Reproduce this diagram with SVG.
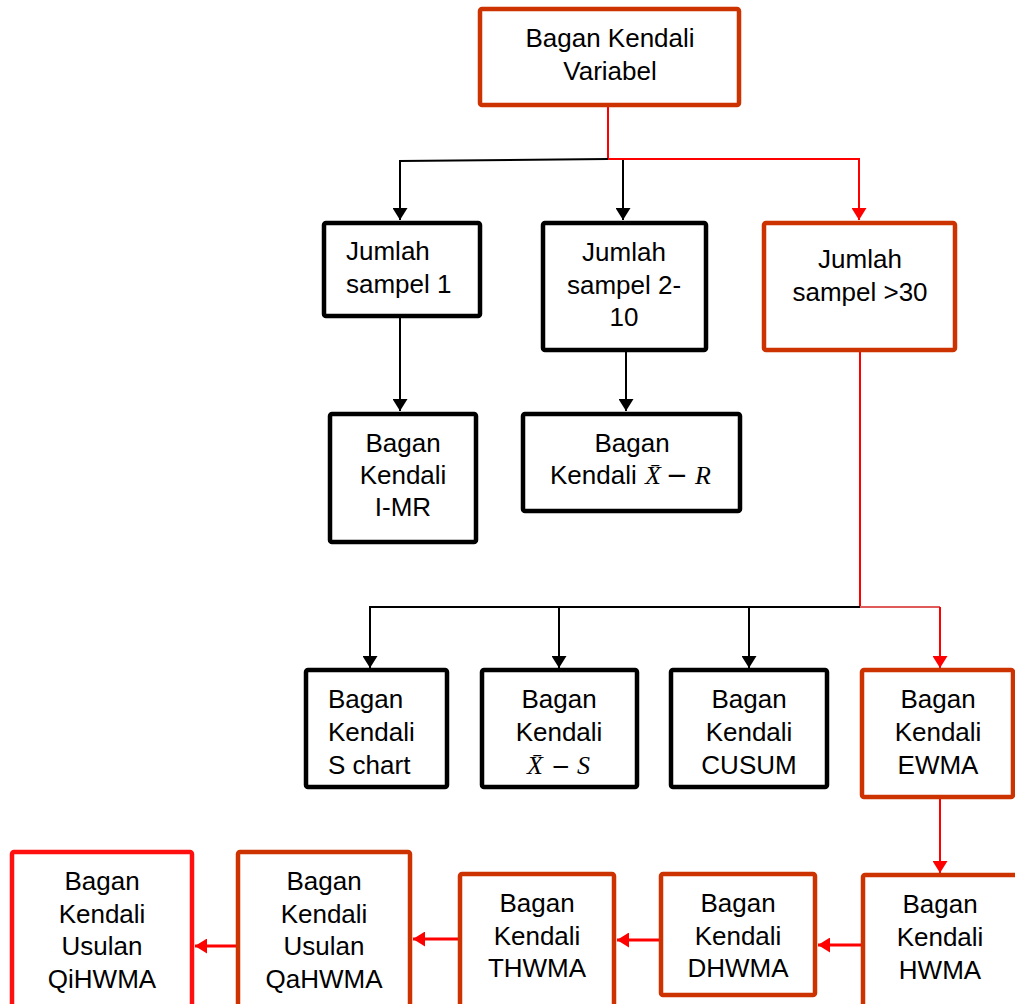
<svg xmlns="http://www.w3.org/2000/svg" width="1015" height="1004" viewBox="0 0 1015 1004">
<style>
.bx{fill:#fff;stroke:#000;stroke-width:4.5}
.rb{fill:#fff;stroke:#CC3300;stroke-width:4.5}
.qb{fill:#fff;stroke:#FF1010;stroke-width:4.5}
text{font-family:"Liberation Sans",Arial,sans-serif;font-size:26px;fill:#000}
.c{text-anchor:middle}
.m{font-family:"Liberation Serif","Times New Roman",serif;font-style:italic}
.mo{font-family:"DejaVu Sans",sans-serif}
.k{fill:none;stroke:#000;stroke-width:2}
.r{fill:none;stroke:#FF0000;stroke-width:2}
.r3{fill:none;stroke:#FF0000;stroke-width:3}
</style>
<defs>
<marker id="ak" markerUnits="userSpaceOnUse" markerWidth="15" markerHeight="15" viewBox="0 0 12 15" refX="12" refY="7.5" orient="auto"><path d="M0,0L12,7.5L0,15z" fill="#000"/></marker>
<marker id="ar" markerUnits="userSpaceOnUse" markerWidth="15" markerHeight="15" viewBox="0 0 12 15" refX="12" refY="7.5" orient="auto"><path d="M0,0L12,7.5L0,15z" fill="#FF0000"/></marker>
</defs>
<rect width="1015" height="1004" fill="#fff"/>
<g id="connectors">
<path class="r" d="M608,107V159"/>
<path class="k" d="M608,159L400,161V220" marker-end="url(#ak)"/>
<path class="k" d="M623,160V220" marker-end="url(#ak)"/>
<path class="r" d="M608,159H859V220" marker-end="url(#ar)"/>
<path class="k" d="M400,318V411" marker-end="url(#ak)"/>
<path class="k" d="M626,352V411" marker-end="url(#ak)"/>
<path class="r" d="M860,352V607"/>
<path class="k" d="M860,607H370V668" marker-end="url(#ak)"/>
<path class="k" d="M559,607V668" marker-end="url(#ak)"/>
<path class="k" d="M749,607V668" marker-end="url(#ak)"/>
<path fill="none" stroke="#E05A5A" stroke-width="2" d="M860,607H940"/>
<path class="r" d="M940,607V668" marker-end="url(#ar)"/>
<path class="r" d="M940,799V873" marker-end="url(#ar)"/>
<path class="r3" d="M861,945H818" marker-end="url(#ar)"/>
<path class="r3" d="M659,940H617" marker-end="url(#ar)"/>
<path class="r3" d="M458,939H413" marker-end="url(#ar)"/>
<path class="r3" d="M236,946H195" marker-end="url(#ar)"/>
</g>
<g id="n-variabel"><rect class="rb" x="480" y="9" width="259" height="96" rx="2"/><text class="c" x="610" y="47">Bagan Kendali</text><text class="c" x="610" y="80">Variabel</text></g>
<g id="n-sampel1"><rect class="bx" x="324" y="223" width="156" height="93" rx="2"/><text x="346" y="260">Jumlah</text><text x="346" y="293">sampel 1</text></g>
<g id="n-sampel210"><rect class="bx" x="543" y="223" width="163" height="127" rx="2"/><text class="c" x="624" y="261">Jumlah</text><text class="c" x="624" y="294">sampel 2-</text><text class="c" x="624" y="326">10</text></g>
<g id="n-sampel30"><rect class="rb" x="764" y="223" width="191" height="127" rx="2"/><text class="c" x="860" y="268">Jumlah</text><text class="c" x="860" y="301">sampel &gt;30</text></g>
<g id="n-imr"><rect class="bx" x="330" y="414" width="146" height="128" rx="2"/><text class="c" x="403" y="452">Bagan</text><text class="c" x="403" y="484">Kendali</text><text class="c" x="403" y="516">I-MR</text></g>
<g id="n-xr"><rect class="bx" x="523" y="414" width="217" height="97" rx="2"/><text class="c" x="632" y="452">Bagan</text><text x="550" y="484">Kendali <tspan class="m" x="645">X̄</tspan><tspan class="mo" x="666">−</tspan><tspan class="m" x="695">R</tspan></text></g>
<g id="n-schart"><rect class="bx" x="306" y="670" width="141" height="117" rx="2"/><text x="328" y="708">Bagan</text><text x="328" y="741">Kendali</text><text x="328" y="774">S chart</text></g>
<g id="n-xs"><rect class="bx" x="482" y="670" width="155" height="117" rx="2"/><text class="c" x="559" y="708">Bagan</text><text class="c" x="559" y="741">Kendali</text><text x="527" y="774"><tspan class="m">X̄</tspan><tspan class="mo" x="551" font-size="23">−</tspan><tspan class="m" x="577">S</tspan></text></g>
<g id="n-cusum"><rect class="bx" x="671" y="670" width="156" height="117" rx="2"/><text class="c" x="749" y="708">Bagan</text><text class="c" x="749" y="741">Kendali</text><text class="c" x="749" y="774">CUSUM</text></g>
<g id="n-ewma"><rect class="rb" x="862" y="670" width="151" height="127" rx="2"/><text class="c" x="938" y="708">Bagan</text><text class="c" x="938" y="741">Kendali</text><text class="c" x="938" y="774">EWMA</text></g>
<g id="n-hwma"><rect class="rb" x="863" y="875" width="160" height="140" rx="2"/><text class="c" x="940" y="913">Bagan</text><text class="c" x="940" y="946">Kendali</text><text class="c" x="940" y="979">HWMA</text></g>
<g id="n-dhwma"><rect class="rb" x="661" y="874" width="154" height="121" rx="2"/><text class="c" x="738" y="912">Bagan</text><text class="c" x="738" y="945">Kendali</text><text class="c" x="738" y="977">DHWMA</text></g>
<g id="n-thwma"><rect class="rb" x="460" y="874" width="154" height="140" rx="2"/><text class="c" x="537" y="912">Bagan</text><text class="c" x="537" y="945">Kendali</text><text class="c" x="537" y="977">THWMA</text></g>
<g id="n-qahwma"><rect class="rb" x="238" y="852" width="172" height="160" rx="2"/><text class="c" x="324" y="890">Bagan</text><text class="c" x="324" y="923">Kendali</text><text class="c" x="324" y="955">Usulan</text><text class="c" x="324" y="988">QaHWMA</text></g>
<g id="n-qihwma"><rect class="qb" x="12" y="852" width="180" height="160" rx="2"/><text class="c" x="102" y="890">Bagan</text><text class="c" x="102" y="923">Kendali</text><text class="c" x="102" y="955">Usulan</text><text class="c" x="102" y="988">QiHWMA</text></g>
</svg>
